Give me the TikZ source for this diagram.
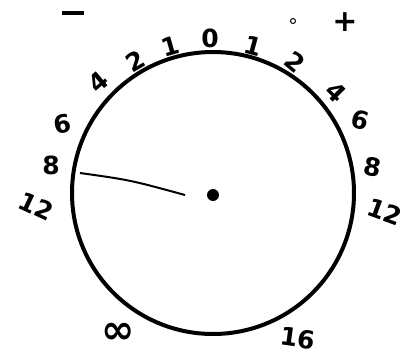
\documentclass[tikz,border=0pt]{standalone}
\usepackage{fontspec}
\setmainfont{DejaVu Sans}
\begin{document}
\begin{tikzpicture}[x=1pt,y=-1pt,
  lab/.style={font=\fontsize{25}{27}\selectfont\bfseries, inner sep=0pt},
  sign/.style={font=\fontsize{30}{32}\selectfont\bfseries, inner sep=0pt}]
\useasboundingbox (0,0) rectangle (410,356);
\node[circle, draw, line width=4pt, minimum size=282pt, inner sep=0pt] (dial) at (213,193) {};
\node[circle, fill, minimum size=12pt, inner sep=0pt] (hub) at (213,195) {};
\coordinate (tip) at (80,173);
\coordinate (nend) at (185,195);
\draw[line width=2pt] (tip) .. controls (130,180) .. (nend);
% top scale
\node[lab] (z0) at (210,38) {0};
\node[lab, rotate=16] (l1) at (170,46) {1};
\node[lab, rotate=30] (l2) at (135,61) {2};
\node[lab, rotate=40] (l4) at (98,82) {4};
\node[lab, rotate=10] (l6) at (62,124) {6};
\node[lab] (l8) at (51,165) {8};
\node[lab, rotate=-25] (l12) at (36,206) {12};
\node[lab, rotate=-15] (r1) at (253,46) {1};
\node[lab, rotate=-40] (r2) at (295,62) {2};
\node[lab, rotate=-45] (r4) at (336,92) {4};
\node[lab, rotate=-15] (r6) at (360,120) {6};
\node[lab, rotate=-10] (r8) at (373,167) {8};
\node[lab, rotate=-20] (r12) at (385,212) {12};
\node[lab, font=\fontsize{40}{42}\selectfont\bfseries] (inf) at (118,333) {∞};
\node[lab, rotate=-8] (r16) at (298,338) {16};
% signs
\node[sign] (minus) at (73,13) {\rule{22pt}{4pt}};
\node[sign] (plus) at (345,22) {+};
\node[circle, draw, line width=1pt, minimum size=5pt, inner sep=0pt] (deg) at (293,21) {};
\end{tikzpicture}
\end{document}
